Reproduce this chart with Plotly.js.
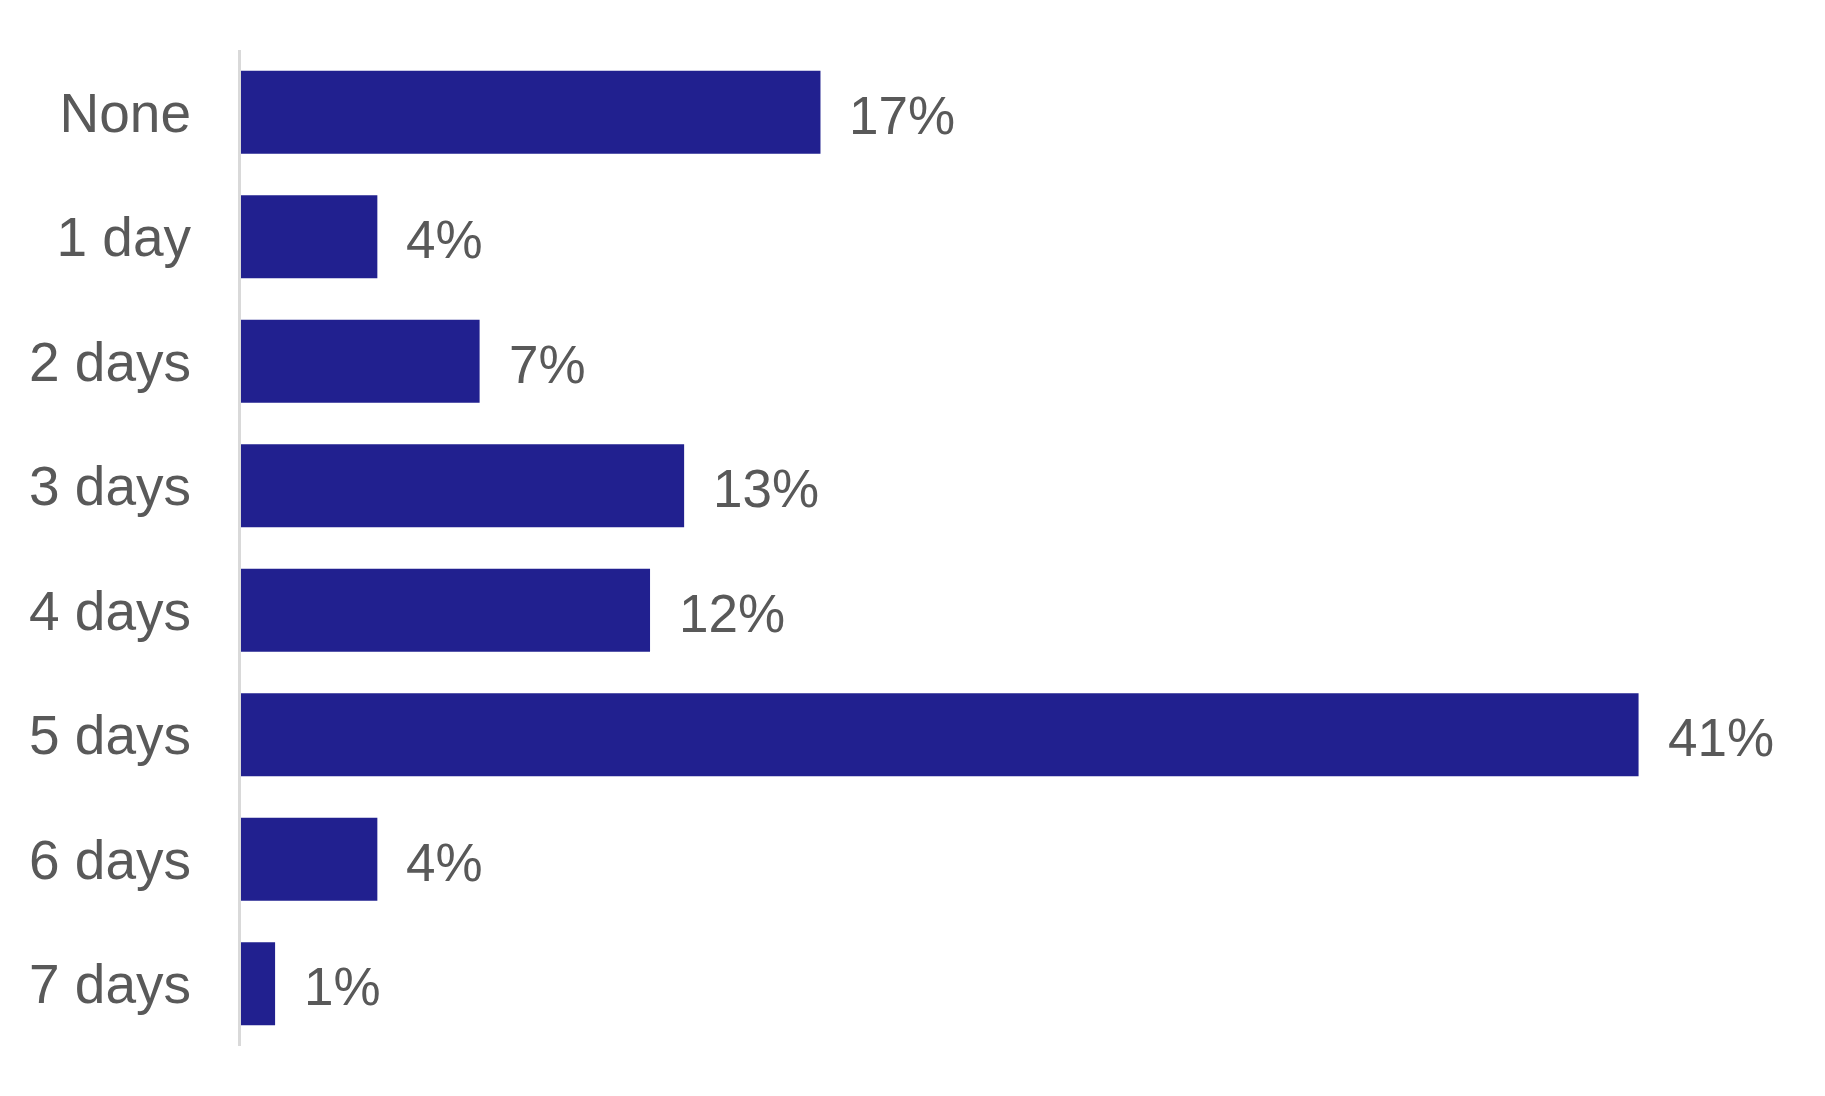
<!DOCTYPE html>
<html>
<head>
<meta charset="utf-8">
<script src="https://cdn.plot.ly/plotly-3.0.1.min.js"></script>
<style>html,body{margin:0;padding:0;background:#fff;}#chart{width:1825px;height:1096px;}</style>
</head>
<body>
<div id="chart"></div>
<script>
const categories = ["None", "1 day", "2 days", "3 days", "4 days", "5 days", "6 days", "7 days"];
const values = [17, 4, 7, 13, 12, 41, 4, 1];
const valueLabels = ["17%", "4%", "7%", "13%", "12%", "41%", "4%", "1%"];

const fontFam = "Liberation Sans, Arial, sans-serif";
const textColor = "#595959";

const trace = {
  type: "bar",
  orientation: "h",
  y: categories,
  x: values,
  marker: {color: "#21208F"},
  hoverinfo: "none"
};

const annotations = categories.map((c, i) => ({
  x: values[i], y: c, xref: "x", yref: "y",
  text: valueLabels[i], showarrow: false,
  xanchor: "left", yanchor: "middle", xshift: 27, yshift: -3,
  font: {family: fontFam, size: 53, color: textColor}
}));

const layout = {
  width: 1825, height: 1096,
  margin: {l: 241, r: 16, t: 50, b: 50},
  paper_bgcolor: "#fff", plot_bgcolor: "#fff",
  showlegend: false,
  bargap: 0.333,
  xaxis: {range: [0, 46], visible: false, fixedrange: true},
  yaxis: {
    autorange: "reversed",
    range: [-0.5, 7.5],
    showline: true, linecolor: "#d9d9d9", linewidth: 3,
    showgrid: false, zeroline: false,
    ticks: "", ticklabelstandoff: 36,
    tickfont: {family: fontFam, size: 55, color: textColor}
  },
  annotations: annotations
};

Plotly.newPlot("chart", [trace], layout, {staticPlot: true});
</script>
</body>
</html>
